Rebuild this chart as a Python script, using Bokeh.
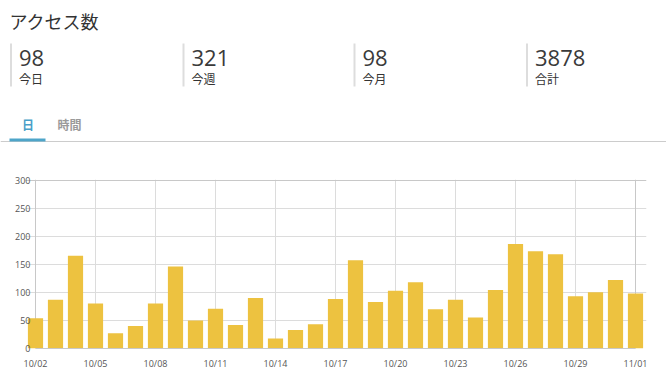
from bokeh.plotting import figure
from bokeh.layouts import column
from bokeh.models import Range1d, FixedTicker, Grid
from bokeh.core.properties import value
from bokeh.embed import file_html
from bokeh.resources import INLINE

# ---------------- data ----------------
title = "アクセス数"
stat_values = ["98", "321", "98", "3878"]
stat_labels = ["今日", "今週", "今月", "合計"]
tabs = ["日", "時間"]

dates = ["10/02", "10/03", "10/04", "10/05", "10/06", "10/07", "10/08", "10/09",
         "10/10", "10/11", "10/12", "10/13", "10/14", "10/15", "10/16", "10/17",
         "10/18", "10/19", "10/20", "10/21", "10/22", "10/23", "10/24", "10/25",
         "10/26", "10/27", "10/28", "10/29", "10/30", "10/31", "11/01"]
visits = [54, 87, 165, 80, 27, 40, 80, 146, 50, 71, 42, 90, 18, 33, 43, 88,
          157, 83, 103, 118, 70, 87, 55, 104, 186, 173, 168, 93, 100, 122, 98]
y_ticks = [0, 50, 100, 150, 200, 250, 300]

JP = "Noto Sans CJK JP"
NUM = "Open Sans"
W = 666
HH = 152

# ---------------- header (page-pixel coordinates) ----------------
h = figure(width=W, height=HH, x_range=Range1d(0, W), y_range=Range1d(HH, 0),
           x_axis_type=None, y_axis_type=None, toolbar_location=None,
           output_backend="svg", min_border=0, frame_align=False)
h.outline_line_color = None
h.grid.visible = False

h.text(x=[9], y=[20], text=[title], text_font=value(JP), text_font_size="18px",
       text_color="#333333", text_baseline="middle", text_align="left")

bar_x = [10.5, 183, 354, 526.5]
h.segment(x0=bar_x, y0=[43] * 4, x1=bar_x, y1=[86] * 4, line_color="#dddddd", line_width=2)
text_x = [b + 8 for b in bar_x]
h.text(x=text_x, y=[57] * 4, text=stat_values, text_font=value(NUM), text_font_size="22px",
       text_color="#3a3a3a", text_baseline="middle", text_align="left")
h.text(x=text_x, y=[78] * 4, text=stat_labels, text_font=value(JP), text_font_size="12px",
       text_color="#333333", text_baseline="middle", text_align="left")

# tabs
h.text(x=[21.5, 57], y=[123.5, 123.5], text=tabs, text_font=value(JP), text_font_size="12px",
       text_font_style="bold", text_color=["#4a9fc8", "#9a9a9a"],
       text_baseline="middle", text_align="left")
h.segment(x0=[0], y0=[141], x1=[W], y1=[141], line_color="#cccccc", line_width=1)
h.quad(left=[9], right=[45], top=[138], bottom=[141], fill_color="#4ea5c9", line_color=None)

# ---------------- bar chart ----------------
n = len(dates)
p = figure(width=W, height=223, x_range=Range1d(-0.5, 30.55), y_range=Range1d(0, 301),
           toolbar_location=None, output_backend="svg", frame_align=False,
           min_border_left=25, min_border_right=20, min_border_top=27, min_border_bottom=27)
p.outline_line_color = None

p.vbar(x=list(range(n)), top=visits, width=0.76, fill_color="#edc240", line_color=None)

xt = list(range(0, n, 3))
p.xaxis.ticker = FixedTicker(ticks=xt)
p.xaxis.major_label_overrides = {i: dates[i] for i in xt}
p.xaxis.bounds = (0, n - 1)
p.yaxis.ticker = FixedTicker(ticks=y_ticks)

for ax in (p.xaxis, p.yaxis):
    ax.major_tick_line_color = None
    ax.minor_tick_line_color = None
    ax.major_tick_out = 0
    ax.major_tick_in = 0
    ax.major_label_text_font = NUM
    ax.major_label_text_font_size = "9px"
    ax.major_label_text_color = "#555555"
p.xaxis.axis_line_color = "#c8c8c8"
p.yaxis.axis_line_color = None
p.xaxis.major_label_standoff = 8
p.yaxis.major_label_standoff = -5

p.xgrid.ticker = FixedTicker(ticks=xt[1:-1])
p.xgrid.bounds = (0, 300)
p.ygrid.ticker = FixedTicker(ticks=y_ticks[1:-1])
p.ygrid.bounds = (0, n - 1)
p.grid.grid_line_color = "#dcdcdc"

# plot box border (left, right, top)
p.add_layout(Grid(dimension=0, ticker=FixedTicker(ticks=[0, n - 1]), bounds=(0, 300),
                  grid_line_color="#c8c8c8"))
p.add_layout(Grid(dimension=1, ticker=FixedTicker(ticks=[300]), bounds=(0, n - 1),
                  grid_line_color="#c8c8c8"))

layout = column(h, p, spacing=0)
open("out.html", "w").write(file_html(layout, INLINE))
